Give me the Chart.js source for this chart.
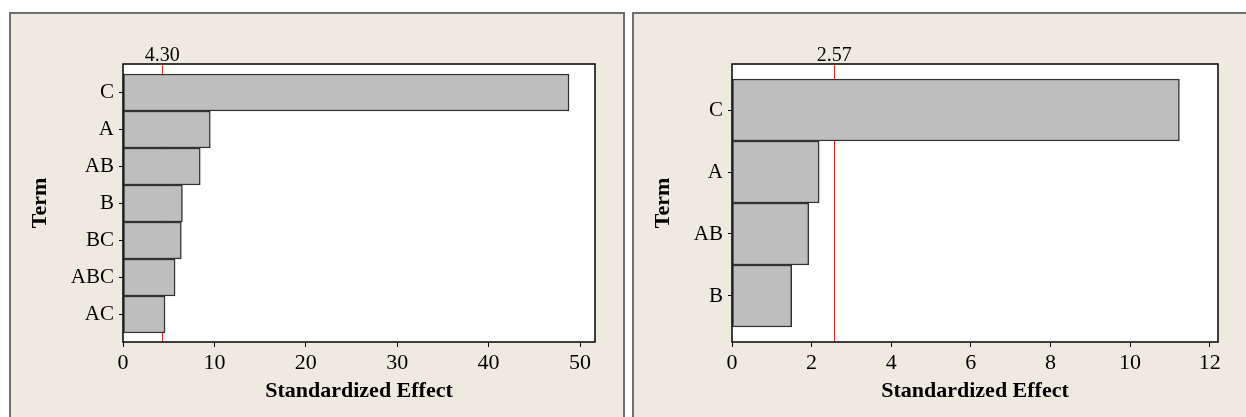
<!DOCTYPE html>
<html>
<head>
<meta charset="utf-8">
<script src="https://cdn.jsdelivr.net/npm/chart.js@4/dist/chart.umd.min.js"></script>
<style>
  html, body { margin: 0; padding: 0; background: #ffffff; width: 1246px; height: 417px; overflow: hidden; }
  .panel { position: absolute; top: 12px; height: 420px; box-sizing: border-box;
           border: 2px solid #6f6f6f; border-bottom: none; background: #EEEAE0; }
  #pl { left: 9px; width: 616px; }
  #pr { left: 632px; width: 640px; }
  canvas { position: absolute; left: 0; top: 0; }
</style>
</head>
<body>
<div class="panel" id="pl"><canvas id="cl" width="612" height="403"></canvas></div>
<div class="panel" id="pr"><canvas id="cr" width="612" height="403"></canvas></div>
<script>
// ---- data ----
const termsLeft = ['C', 'A', 'AB', 'B', 'BC', 'ABC', 'AC'];
const effectsLeft = [48.8, 9.55, 8.45, 6.5, 6.38, 5.7, 4.6];
const refLeft = 4.30;
const refLabelLeft = '4.30';
const xTicksLeft = [0, 10, 20, 30, 40, 50];

const termsRight = ['C', 'A', 'AB', 'B'];
const effectsRight = [11.24, 2.19, 1.93, 1.50];
const refRight = 2.57;
const refLabelRight = '2.57';
const xTicksRight = [0, 2, 4, 6, 8, 10, 12];

const axisTitleX = 'Standardized Effect';
const axisTitleY = 'Term';

const SERIF = "'Liberation Serif', 'Times New Roman', serif";

function makeChart(id, terms, effects, ref, refLabel, xTicks, cfg) {
  const refPlugin = {
    id: 'refLine' + id,
    beforeDraw(chart) {
      const a = chart.chartArea, ctx = chart.ctx;
      ctx.save();
      ctx.fillStyle = '#ffffff';
      ctx.fillRect(a.left, a.top, a.right - a.left, a.bottom - a.top);
      ctx.restore();
    },
    beforeDatasetsDraw(chart) {
      const a = chart.chartArea, ctx = chart.ctx;
      const x = Math.round(chart.scales.x.getPixelForValue(ref)) + 0.5;
      ctx.save();
      ctx.strokeStyle = '#ff1a1a';
      ctx.lineWidth = 1;
      ctx.beginPath();
      ctx.moveTo(x, a.top);
      ctx.lineTo(x, a.bottom);
      ctx.stroke();
      ctx.restore();
    },
    afterDatasetsDraw(chart) {
      const a = chart.chartArea, ctx = chart.ctx;
      ctx.save();
      ctx.strokeStyle = '#000000';
      ctx.lineWidth = 1.5;
      ctx.strokeRect(a.left, a.top, a.right - a.left, a.bottom - a.top);
      const x = chart.scales.x.getPixelForValue(ref);
      ctx.fillStyle = '#000000';
      ctx.font = '20px ' + SERIF;
      ctx.textAlign = 'center';
      ctx.textBaseline = 'alphabetic';
      ctx.fillText(refLabel, x, a.top - 3);
      ctx.restore();
    }
  };

  return new Chart(document.getElementById(id), {
    type: 'bar',
    data: {
      datasets: [{
        data: effects.map((v, i) => ({ x: v, y: i })),
        backgroundColor: '#BEBEBE',
        borderColor: '#333333',
        borderWidth: 1.5,
        borderSkipped: false,
        barPercentage: 1,
        categoryPercentage: 1
      }]
    },
    options: {
      indexAxis: 'y',
      responsive: false,
      animation: false,
      devicePixelRatio: 1,
      layout: { padding: cfg.padding },
      plugins: { legend: { display: false }, tooltip: { enabled: false } },
      scales: {
        x: {
          type: 'linear',
          position: 'bottom',
          min: 0,
          max: cfg.xMax,
          offset: false,
          afterBuildTicks: s => { s.ticks = xTicks.map(v => ({ value: v })); },
          afterFit: s => { s.height = cfg.xHeight; },
          border: { display: false },
          grid: { display: true, offset: false, drawOnChartArea: false, drawTicks: true, tickLength: 5, color: '#000', lineWidth: 1 },
          ticks: { color: '#000', font: { family: SERIF, size: 22 }, padding: 3, maxRotation: 0 },
          title: { display: true, text: axisTitleX, color: '#000',
                   font: { family: SERIF, size: 22, weight: 'bold' }, padding: { top: 0, bottom: 4 } }
        },
        y: {
          type: 'linear',
          position: 'left',
          reverse: true,
          offset: false,
          min: cfg.yMin,
          max: cfg.yMax,
          afterBuildTicks: s => { s.ticks = terms.map((t, i) => ({ value: i })); },
          afterFit: s => { s.width = cfg.yWidth; },
          border: { display: false },
          grid: { display: true, offset: false, drawOnChartArea: false, drawTicks: true, tickLength: 4, color: '#000', lineWidth: 1 },
          ticks: { color: '#000', font: { family: SERIF, size: 21 }, padding: 5,
                   callback: v => terms[v] },
          title: { display: true, text: axisTitleY, color: '#000',
                   font: { family: SERIF, size: 22, weight: 'bold' }, padding: { top: 0, bottom: 0 } }
        }
      }
    },
    plugins: [refPlugin]
  });
}

makeChart('cl', termsLeft, effectsLeft, refLeft, refLabelLeft, xTicksLeft, {
  padding: { left: 16, right: 28, top: 50, bottom: 8 },
  xHeight: 67, yWidth: 96,
  xMax: 51.64,
  yMin: -0.770, yMax: 6.744
});

makeChart('cr', termsRight, effectsRight, refRight, refLabelRight, xTicksRight, {
  padding: { left: 16, right: 28, top: 50, bottom: 8 },
  xHeight: 67, yWidth: 82,
  xMax: 12.21,
  yMin: -0.742, yMax: 3.742
});
</script>
</body>
</html>
